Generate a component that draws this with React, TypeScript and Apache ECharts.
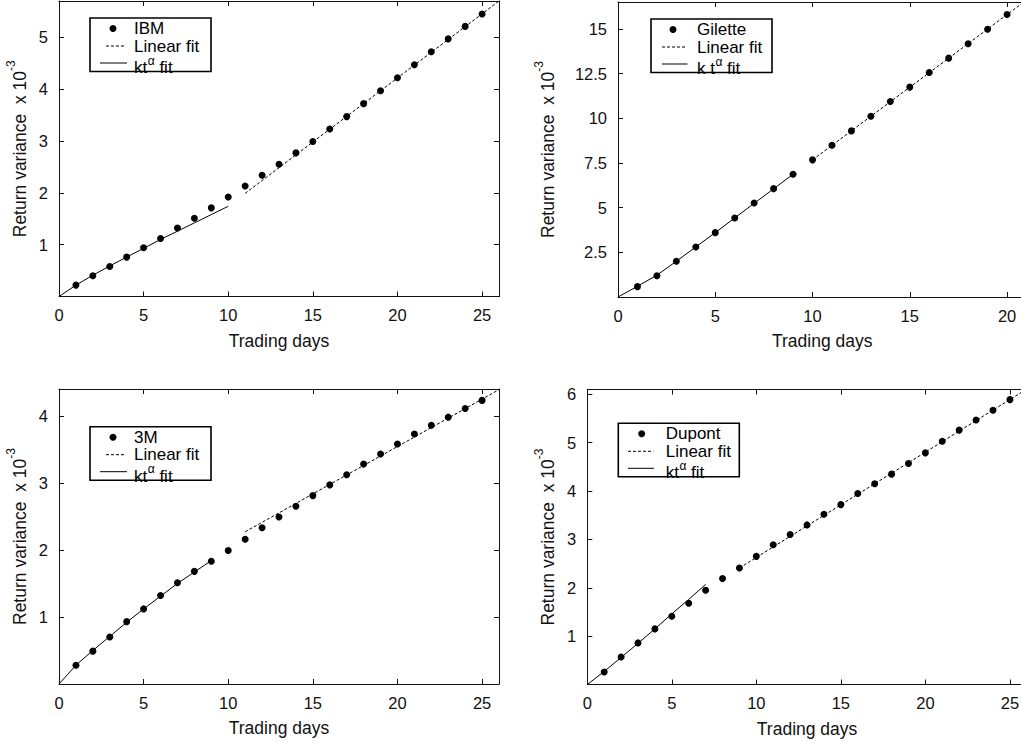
import React, { useEffect, useRef } from 'react';
import * as echarts from 'echarts';

// ---------------- data ----------------
const DAYS_25 = [1, 2, 3, 4, 5, 6, 7, 8, 9, 10, 11, 12, 13, 14, 15, 16, 17, 18, 19, 20, 21, 22, 23, 24, 25];
const DAYS_20 = [1, 2, 3, 4, 5, 6, 7, 8, 9, 10, 11, 12, 13, 14, 15, 16, 17, 18, 19, 20];

const IBM_VAR = [0.22, 0.40, 0.58, 0.76, 0.94, 1.12, 1.32, 1.51, 1.71, 1.92, 2.13, 2.34, 2.55, 2.77, 2.99, 3.23, 3.47, 3.72, 3.97, 4.22, 4.47, 4.72, 4.97, 5.21, 5.45];
const IBM_POWER_X = [0, 1, 2, 3, 4, 5, 6, 7, 8, 9, 10];
const IBM_POWER = [0, 0.22, 0.41, 0.59, 0.76, 0.93, 1.10, 1.26, 1.42, 1.58, 1.74];
const IBM_LINEAR_X = [11, 26];
const IBM_LINEAR = [1.99, 5.70];

const GILETTE_VAR = [0.58, 1.19, 2.00, 2.80, 3.60, 4.42, 5.26, 6.06, 6.87, 7.67, 8.49, 9.29, 10.11, 10.93, 11.74, 12.56, 13.36, 14.16, 14.98, 15.80];
const GILETTE_POWER_X = [0, 1, 2, 3, 4, 5, 6, 7, 8, 9];
const GILETTE_POWER = [0, 0.60, 1.22, 2.00, 2.80, 3.60, 4.42, 5.24, 6.05, 6.87];
const GILETTE_LINEAR_X = [10, 21];
const GILETTE_LINEAR = [7.67, 16.61];

const MMM_VAR = [0.28, 0.49, 0.70, 0.93, 1.12, 1.32, 1.51, 1.68, 1.83, 1.99, 2.16, 2.33, 2.49, 2.65, 2.81, 2.97, 3.12, 3.28, 3.43, 3.58, 3.73, 3.86, 3.98, 4.11, 4.23];
const MMM_POWER_X = [0, 1, 2, 3, 4, 5, 6, 7, 8, 9];
const MMM_POWER = [0, 0.28, 0.50, 0.71, 0.92, 1.12, 1.31, 1.50, 1.67, 1.84];
const MMM_LINEAR_X = [11, 26];
const MMM_LINEAR = [2.27, 4.39];

const DUPONT_VAR = [0.26, 0.57, 0.86, 1.15, 1.41, 1.68, 1.95, 2.19, 2.41, 2.65, 2.89, 3.10, 3.30, 3.52, 3.72, 3.95, 4.15, 4.35, 4.57, 4.79, 5.03, 5.26, 5.47, 5.67, 5.89];
const DUPONT_POWER_X = [0, 1, 2, 3, 4, 5, 6, 7];
const DUPONT_POWER = [0, 0.27, 0.56, 0.85, 1.15, 1.46, 1.76, 2.07];
const DUPONT_LINEAR_X = [9, 26];
const DUPONT_LINEAR = [2.41, 6.11];

const X_TICKS_25 = [0, 5, 10, 15, 20, 25];
const X_TICKS_20 = [0, 5, 10, 15, 20];
const IBM_Y_TICKS = [1, 2, 3, 4, 5];
const GILETTE_Y_TICKS = [2.5, 5, 7.5, 10, 12.5, 15];
const MMM_Y_TICKS = [1, 2, 3, 4];
const DUPONT_Y_TICKS = [1, 2, 3, 4, 5, 6];

const NAMES = ['IBM', 'Gilette', '3M', 'Dupont'];
const LINEAR_LABEL = 'Linear fit';
// power-law fit label: [before superscript, superscript, after superscript]
const POWER_LABELS = [['kt', 'α', ' fit'], ['k t', 'α', ' fit'], ['kt', 'α', ' fit'], ['kt', 'α', ' fit']];
const X_TITLE = 'Trading days';
const Y_TITLE = '{m|Return variance  x 10}{s|-3}';

// ---------------- layout / style ----------------
const FONT = '"Liberation Sans", Arial, Helvetica, sans-serif';
const INK = '#111';
const LEGEND_FONT = 17;
const SUP_FONT = 12;

const PANELS = [
  { vars: IBM_VAR, days: DAYS_25, px: IBM_POWER_X, py: IBM_POWER, lx: IBM_LINEAR_X, ly: IBM_LINEAR, xMax: 26, yMax: 5.7, yInt: 1, xTicks: X_TICKS_25, yTicks: IBM_Y_TICKS,
    grid: { left: 59, top: 1, width: 440, height: 295.5 }, yGap: 24,
    lg: { x: 90, y: 18, dot: 23, text: 44, dash: [16, 36], solid: [10, 37] } },
  { vars: GILETTE_VAR, days: DAYS_20, px: GILETTE_POWER_X, py: GILETTE_POWER, lx: GILETTE_LINEAR_X, ly: GILETTE_LINEAR, xMax: 21, yMax: 16.5, yInt: 2.5, xTicks: X_TICKS_20, yTicks: GILETTE_Y_TICKS,
    grid: { left: 618, top: 2, width: 408.5, height: 295 }, yGap: 55,
    lg: { x: 651, y: 19, dot: 22, text: 46, dash: [11, 35], solid: [11, 36.5] } },
  { vars: MMM_VAR, days: DAYS_25, px: MMM_POWER_X, py: MMM_POWER, lx: MMM_LINEAR_X, ly: MMM_LINEAR, xMax: 26, yMax: 4.4, yInt: 1, xTicks: X_TICKS_25, yTicks: MMM_Y_TICKS,
    grid: { left: 59, top: 389, width: 440, height: 295 }, yGap: 24,
    lg: { x: 90, y: 426.7, dot: 23, text: 44, dash: [16, 36], solid: [10, 37] } },
  { vars: DUPONT_VAR, days: DAYS_25, px: DUPONT_POWER_X, py: DUPONT_POWER, lx: DUPONT_LINEAR_X, ly: DUPONT_LINEAR, xMax: 26, yMax: 6.1, yInt: 1, xTicks: X_TICKS_25, yTicks: DUPONT_Y_TICKS,
    grid: { left: 587.3, top: 389.5, width: 439.5, height: 295 }, yGap: 24,
    lg: { x: 618.3, y: 423.3, dot: 23.4, text: 47.4, dash: [9.7, 35], solid: [9.7, 35.7] } },
];

const fmt = (ticks: number[]) => (v: number) =>
  ticks.some((t) => Math.abs(t - v) < 1e-6) ? String(v) : '';

let measureCtx: CanvasRenderingContext2D | null = null;
function textWidth(text: string, size: number) {
  if (!measureCtx) measureCtx = document.createElement('canvas').getContext('2d');
  if (!measureCtx) return text.length * size * 0.55;
  measureCtx.font = `${size}px ${FONT}`;
  return measureCtx.measureText(text).width;
}

function buildOption() {
  const grid: any[] = [];
  const xAxis: any[] = [];
  const yAxis: any[] = [];
  const series: any[] = [];
  const graphic: any[] = [];

  PANELS.forEach((p, i) => {
    grid.push({ ...p.grid, show: false, containLabel: false });
    const common = {
      type: 'value',
      gridIndex: i,
      min: 0,
      splitLine: { show: false },
      axisLine: { show: true, onZero: false, lineStyle: { color: INK, width: 1 } },
      axisTick: { show: true, inside: true, length: 5, lineStyle: { color: INK, width: 1 } },
    };
    xAxis.push({
      ...common, position: 'bottom', max: p.xMax, interval: 5,
      axisLabel: { show: true, margin: 10, fontFamily: FONT, fontSize: 16.5, color: INK, formatter: fmt(p.xTicks) },
      name: X_TITLE, nameLocation: 'middle', nameGap: 35,
      nameTextStyle: { fontFamily: FONT, fontSize: 17.5, color: INK },
    });
    xAxis.push({ ...common, position: 'top', max: p.xMax, interval: 5, axisLabel: { show: false } });
    yAxis.push({
      ...common, position: 'left', max: p.yMax, interval: p.yInt,
      axisLabel: { show: true, margin: 11, fontFamily: FONT, fontSize: 16.5, color: INK, formatter: fmt(p.yTicks) },
      name: Y_TITLE, nameLocation: 'middle', nameRotate: 90, nameGap: p.yGap,
      nameTextStyle: {
        fontFamily: FONT, fontSize: 17.5, color: INK,
        rich: {
          m: { fontFamily: FONT, fontSize: 17.5, color: INK, lineHeight: 30 },
          s: { fontFamily: FONT, fontSize: 12, color: INK, lineHeight: 10, verticalAlign: 'top' },
        },
      },
    });
    yAxis.push({ ...common, position: 'right', max: p.yMax, interval: p.yInt, axisLabel: { show: false } });

    const xi = i * 2;
    series.push({
      name: NAMES[i], type: 'scatter', xAxisIndex: xi, yAxisIndex: xi,
      data: p.days.map((d, k) => [d, p.vars[k]]),
      symbol: 'circle', symbolSize: 7, itemStyle: { color: '#000', opacity: 1 }, z: 4,
    });
    series.push({
      name: LINEAR_LABEL, type: 'line', xAxisIndex: xi, yAxisIndex: xi,
      data: p.lx.map((x, k) => [x, p.ly[k]]),
      symbol: 'none', lineStyle: { color: '#000', width: 1, type: [3, 2] }, z: 3, clip: true,
    });
    series.push({
      name: 'power fit', type: 'line', xAxisIndex: xi, yAxisIndex: xi,
      data: p.px.map((x, k) => [x, p.py[k]]),
      symbol: 'none', lineStyle: { color: '#000', width: 1 }, z: 3, clip: true,
    });

    // legend box (gnuplot style)
    const L = p.lg;
    const rowY = [L.y + 10.5, L.y + 28, L.y + 45];
    const txt = (text: string, x: number, y: number, size: number) => ({
      type: 'text', x, y, z: 101,
      style: {
        text, fill: '#000', font: `${size}px ${FONT}`,
        align: 'left', verticalAlign: 'middle', textAlign: 'left', textVerticalAlign: 'middle',
      },
    });
    const [pre, sup, post] = POWER_LABELS[i];
    const x0 = L.x + L.text;
    const wPre = textWidth(pre, LEGEND_FONT);
    const wSup = textWidth(sup, SUP_FONT);
    graphic.push(
      { type: 'rect', z: 100, shape: { x: L.x, y: L.y, width: 121, height: 53.5 }, style: { fill: '#fff', stroke: '#000', lineWidth: 1.6 } },
      { type: 'circle', z: 101, shape: { cx: L.x + L.dot, cy: rowY[0], r: 3.5 }, style: { fill: '#000' } },
      { type: 'line', z: 101, shape: { x1: L.x + L.dash[0], y1: rowY[1], x2: L.x + L.dash[1], y2: rowY[1] }, style: { stroke: '#000', lineWidth: 1, lineDash: [3, 2] } },
      { type: 'line', z: 101, shape: { x1: L.x + L.solid[0], y1: rowY[2], x2: L.x + L.solid[1], y2: rowY[2] }, style: { stroke: '#000', lineWidth: 1 } },
      txt(NAMES[i], x0, rowY[0], LEGEND_FONT),
      txt(LINEAR_LABEL, x0, rowY[1], LEGEND_FONT),
      txt(pre, x0, L.y + 49.5, LEGEND_FONT),
      txt(sup, x0 + wPre + 0.5, L.y + 42.5, SUP_FONT),
      txt(post, x0 + wPre + wSup + 0.5, L.y + 49.5, LEGEND_FONT),
    );
  });

  return { animation: false, backgroundColor: '#fff', grid, xAxis, yAxis, series, graphic: { elements: graphic } };
}

export default function App() {
  const ref = useRef<HTMLDivElement>(null);
  useEffect(() => {
    if (!ref.current) return;
    const chart = echarts.init(ref.current, undefined, { renderer: 'svg' });
    chart.setOption(buildOption() as any);
    return () => chart.dispose();
  }, []);
  return (
    <div style={{ position: 'fixed', left: 0, top: 0, width: 1021, height: 742, overflow: 'hidden', background: '#fff' }}>
      <div ref={ref} style={{ width: 1040, height: 742 }} />
    </div>
  );
}
